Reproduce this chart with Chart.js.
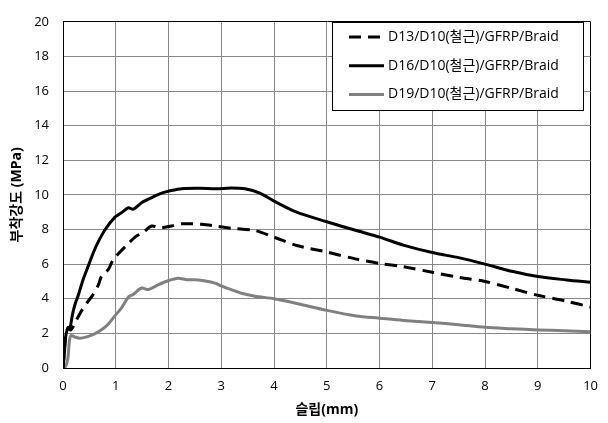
<!DOCTYPE html>
<html>
<head>
<meta charset="utf-8">
<script src="https://cdn.jsdelivr.net/npm/chart.js@4.4.1/dist/chart.umd.min.js"></script>
<style>
  html, body { margin: 0; padding: 0; background: #fff; }
  #wrap { width: 608px; height: 423px; }
</style>
</head>
<body>
<div id="wrap"><canvas id="bondChart" width="608" height="423"></canvas></div>
<script>
// slip (mm) / bond strength (MPa)
const seriesNames = [
  'D13/D10(철근)/GFRP/Braid',
  'D16/D10(철근)/GFRP/Braid',
  'D19/D10(철근)/GFRP/Braid'
];

const d13Slip = [0, 0.03, 0.06, 0.1, 0.15, 0.26, 0.35, 0.45, 0.55, 0.67, 0.73, 0.86, 0.95, 1.08, 1.21, 1.36, 1.52, 1.68, 1.84, 2.05, 2.25, 2.63, 2.9, 3.19, 3.64, 4.0, 4.43, 5.0, 5.56, 6.0, 6.45, 7.0, 7.52, 8.0, 8.53, 9.0, 9.54, 10.0];
const d13Bond = [0, 1.2, 2.0, 2.35, 2.2, 2.8, 3.3, 3.75, 4.15, 4.8, 5.3, 5.7, 6.25, 6.7, 7.1, 7.55, 7.84, 8.2, 8.1, 8.2, 8.33, 8.3, 8.2, 8.07, 7.94, 7.56, 7.08, 6.7, 6.29, 6.04, 5.85, 5.53, 5.23, 5.0, 4.58, 4.2, 3.86, 3.52];

const d16Slip = [0, 0.02, 0.05, 0.08, 0.13, 0.18, 0.23, 0.29, 0.38, 0.48, 0.58, 0.67, 0.8, 0.98, 1.1, 1.24, 1.33, 1.49, 1.65, 1.87, 2.05, 2.25, 2.6, 2.9, 3.19, 3.45, 3.73, 4.0, 4.43, 5.0, 5.56, 6.0, 6.45, 7.0, 7.52, 8.0, 8.53, 9.0, 9.54, 10.0];
const d16Bond = [0, 0.6, 1.8, 2.2, 2.3, 3.1, 3.7, 4.2, 5.1, 5.9, 6.7, 7.3, 8.0, 8.7, 8.95, 9.26, 9.17, 9.55, 9.8, 10.1, 10.25, 10.36, 10.38, 10.35, 10.4, 10.35, 10.1, 9.64, 9.0, 8.45, 7.94, 7.56, 7.1, 6.67, 6.36, 6.0, 5.57, 5.28, 5.09, 4.96];

const d19Slip = [0, 0.05, 0.09, 0.12, 0.15, 0.22, 0.32, 0.45, 0.6, 0.75, 0.86, 0.98, 1.11, 1.24, 1.33, 1.49, 1.62, 1.8, 1.99, 2.18, 2.35, 2.56, 2.75, 2.88, 3.0, 3.19, 3.4, 3.64, 4.0, 4.43, 5.0, 5.56, 6.0, 6.45, 7.0, 7.5, 8.0, 8.5, 9.0, 9.5, 10.0];
const d19Bond = [0, 0.1, 0.5, 1.5, 1.88, 1.8, 1.72, 1.8, 1.97, 2.25, 2.54, 3.0, 3.48, 4.1, 4.25, 4.62, 4.53, 4.8, 5.04, 5.19, 5.1, 5.09, 5.0, 4.9, 4.75, 4.53, 4.3, 4.15, 4.0, 3.73, 3.33, 3.01, 2.88, 2.75, 2.63, 2.5, 2.35, 2.27, 2.2, 2.15, 2.1];

const xTicks = [0, 1, 2, 3, 4, 5, 6, 7, 8, 9, 10];
const yTicks = [0, 2, 4, 6, 8, 10, 12, 14, 16, 18, 20];

const FONT = "'Open Sans', 'Noto Sans CJK KR', sans-serif";

const toPoints = (xs, ys) => xs.map((x, i) => ({ x: x, y: ys[i] }));

// legend drawn in a framed box inside the plot, like the original
const boxLegend = {
  id: 'boxLegend',
  afterDraw(chart) {
    const ctx = chart.ctx;
    const left = 332, top = 22, w = 251, h = 88;
    ctx.save();
    ctx.fillStyle = '#fff';
    ctx.fillRect(left, top, w, h);
    ctx.strokeStyle = '#000';
    ctx.lineWidth = 1;
    ctx.strokeRect(left + 0.5, top + 0.5, w, h);
    ctx.font = '14px ' + FONT;
    ctx.textBaseline = 'middle';
    ctx.fillStyle = '#000';
    chart.data.datasets.forEach((ds, i) => {
      const y = top + 15 + i * 28.7;
      ctx.beginPath();
      ctx.strokeStyle = ds.borderColor;
      ctx.lineWidth = ds.borderWidth;
      ctx.setLineDash(ds.borderDash || []);
      ctx.moveTo(349, y);
      ctx.lineTo(384, y);
      ctx.stroke();
      ctx.setLineDash([]);
      ctx.fillText(ds.label, 388, y);
    });
    ctx.restore();
  }
};

new Chart(document.getElementById('bondChart').getContext('2d'), {
  type: 'line',
  data: {
    datasets: [
      {
        label: seriesNames[0],
        data: toPoints(d13Slip, d13Bond),
        borderColor: '#000',
        borderWidth: 3,
        borderDash: [12, 7],
        pointRadius: 0,
        tension: 0.3
      },
      {
        label: seriesNames[1],
        data: toPoints(d16Slip, d16Bond),
        borderColor: '#000',
        borderWidth: 3,
        pointRadius: 0,
        tension: 0.3
      },
      {
        label: seriesNames[2],
        data: toPoints(d19Slip, d19Bond),
        borderColor: '#808080',
        borderWidth: 3,
        pointRadius: 0,
        tension: 0.3
      }
    ]
  },
  options: {
    responsive: false,
    animation: false,
    devicePixelRatio: 1,
    layout: { padding: { left: 0, top: 15, right: 17, bottom: 0 } },
    plugins: { legend: { display: false }, tooltip: { enabled: false } },
    scales: {
      x: {
        type: 'linear',
        min: 0,
        max: 10,
        afterBuildTicks: (scale) => { scale.ticks = xTicks.map(v => ({ value: v })); },
        afterFit: (scale) => { scale.height = 55; },
        grid: {
          drawTicks: false,
          color: (c) => c.tick && c.tick.value === 10 ? '#000' : '#888',
          lineWidth: 1
        },
        border: { color: '#000', width: 1 },
        ticks: { padding: 10, color: '#000', font: { family: FONT, size: 13 } },
        title: {
          display: true,
          text: '슬립(mm)',
          color: '#000',
          font: { family: FONT, size: 14, weight: 'bold' },
          padding: { top: 0, bottom: 5 }
        }
      },
      y: {
        min: 0,
        max: 20,
        afterBuildTicks: (scale) => { scale.ticks = yTicks.map(v => ({ value: v })); },
        afterFit: (scale) => { scale.width = 63; },
        grid: {
          drawTicks: false,
          color: (c) => c.tick && c.tick.value === 20 ? '#000' : '#888',
          lineWidth: 1
        },
        border: { color: '#000', width: 1 },
        ticks: { padding: 14, color: '#000', font: { family: FONT, size: 13 } },
        title: {
          display: true,
          text: '부착강도 (MPa)',
          color: '#000',
          font: { family: FONT, size: 14, weight: 'bold' },
          padding: { top: 9, bottom: 0 }
        }
      }
    }
  },
  plugins: [boxLegend]
});
</script>
</body>
</html>
